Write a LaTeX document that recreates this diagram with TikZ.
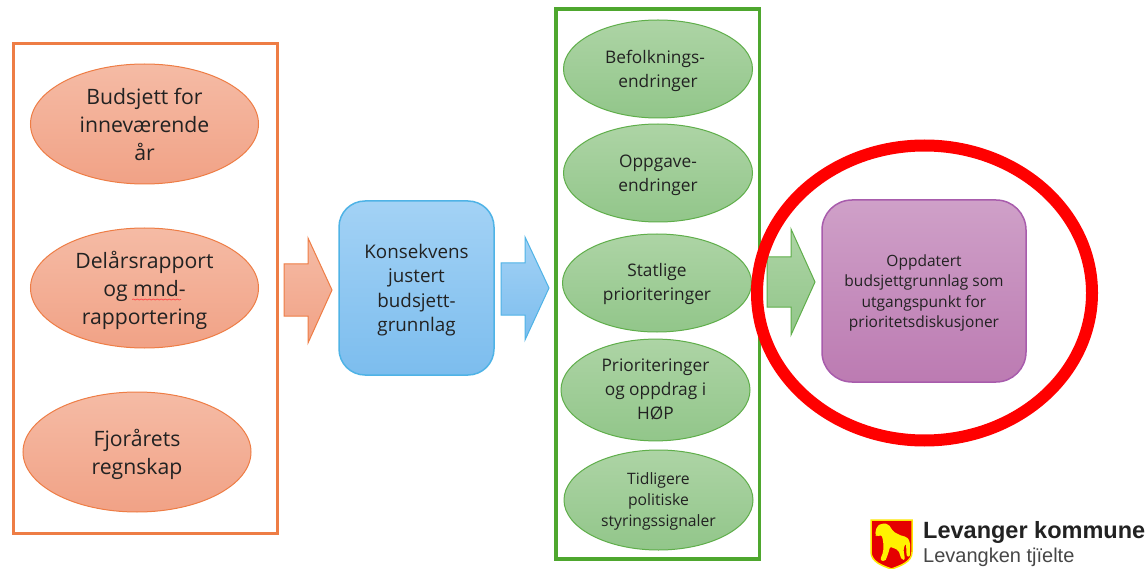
\documentclass[tikz,border=0pt]{standalone}
\usepackage{fontspec}
\setmainfont{Open Sans}
\newfontfamily\logofont{Liberation Sans}
\usetikzlibrary{shapes.geometric,decorations.pathmorphing}
\definecolor{orE}{HTML}{EE7D45}
\definecolor{orT}{HTML}{F5BBA5}
\definecolor{orB}{HTML}{F1A286}
\definecolor{grE}{HTML}{5FAE4A}
\definecolor{grT}{HTML}{ADD4A5}
\definecolor{grB}{HTML}{92C68A}
\definecolor{grF}{HTML}{4EA72E}
\definecolor{blE}{HTML}{4FB3E6}
\definecolor{blT}{HTML}{A3D2F5}
\definecolor{blB}{HTML}{7CBDEE}
\definecolor{puE}{HTML}{A85CAC}
\definecolor{puT}{HTML}{CFA0C8}
\definecolor{puB}{HTML}{BC7BB2}
\definecolor{txt}{HTML}{222222}
\newcommand\dn[2][2pt]{\raisebox{-#1}[\height][\depth]{\begin{tabular}{@{}c@{}}#2\end{tabular}}}
\tikzset{
 x=1pt,y=-1pt,
 every node/.style={align=center,text=txt,inner sep=0pt,font=\fontsize{21.2}{28}\selectfont},
 orell/.style={ellipse,draw=orE,line width=1pt,top color=orT,bottom color=orB,minimum width=228pt,minimum height=120pt},
 grell/.style={ellipse,draw=grE,line width=1pt,top color=grT,bottom color=grB,minimum width=189pt,minimum height=98pt,font=\fontsize{17.3}{24}\selectfont},
 frameor/.style={draw=orE,line width=3pt},
 framegr/.style={draw=grF,line width=3.2pt},
 arrowor/.style={draw=orE,line width=1pt,top color=orT,bottom color=orB},
 arrowbl/.style={draw=blE,line width=1pt,top color=blT,bottom color=blB},
 arrowgr/.style={draw=grE,line width=1pt,top color=grT,bottom color=grB},
}
\begin{document}
\begin{tikzpicture}
\useasboundingbox (0,0) rectangle (1148,569);
\fill[white] (0,0) rectangle (1148,569);
\draw[frameor] (13,44) rectangle (277,533);
\draw[framegr] (556,9) rectangle (759.5,559);
\node[orell] (a1) at (144.5,124) {\dn[3pt]{Budsjett for\\inneværende\\år}};
\node[orell] (a2) at (144.5,288) {\dn[3pt]{Delårsrapport\\og mnd-\\rapportering}};
\node[orell] (a3) at (137,452) {\dn[3pt]{Fjorårets\\regnskap}};
\draw[red!70!white,line width=.7pt,decorate,decoration={snake,amplitude=.5pt,segment length=4pt}] (132,299.5) -- (181,299.5);
\draw[arrowor] (284,264) -- (308,264) -- (308,238) -- (332,290) -- (308,343) -- (308,316) -- (284,316) -- cycle;
\node[draw=blE,line width=1.5pt,rounded corners=26pt,top color=blT,bottom color=blB,minimum width=155pt,minimum height=174pt,font=\fontsize{18.8}{24.5}\selectfont] (b) at (416.5,288) {\dn{Konsekvens\\justert\\budsjett-\\grunnlag}};
\draw[arrowbl] (501,263) -- (525,263) -- (525,237) -- (549,288) -- (525,340) -- (525,315) -- (501,315) -- cycle;
\node[grell] (g1) at (658,69) {\dn{Befolknings-\hspace*{6pt}\\endringer}};
\node[grell] (g2) at (658,173) {\dn{Oppgave-\\endringer}};
\node[grell] (g3) at (657,283) {\dn[1pt]{Statlige\\prioriteringer}};
\node[grell,minimum height=100pt] (g4) at (655.5,390) {\dn[1pt]{Prioriteringer\\og oppdrag i\\HØP}};
\node[grell,minimum height=100pt,font=\fontsize{15.7}{21}\selectfont] (g5) at (658.5,500) {\dn[1pt]{Tidligere\\politiske\\styringssignaler}};
\draw[arrowgr] (767,257) -- (791,257) -- (791,229) -- (815,282) -- (791,335) -- (791,307) -- (767,307) -- cycle;
\draw[red,line width=12pt] (924.5,293) ellipse (167.5pt and 147.5pt);
\node[draw=puE,line width=1.5pt,rounded corners=30pt,top color=puT,bottom color=puB,minimum width=204pt,minimum height=182pt,font=\fontsize{15.5}{20.5}\selectfont] (p) at (924,291) {\dn{Oppdatert\\budsjettgrunnlag som\\utgangspunkt for\\prioritetsdiskusjoner}};
% logo
\fill[red!90!black,draw=yellow!90!orange,line width=1.5pt] (871,520) -- (912,520) -- (912,552) .. controls (912,562) and (900,566) .. (891.5,569) .. controls (883,566) and (871,562) .. (871,552) -- cycle;
\begin{scope}[shift={(860,510)},scale=0.3333]
\fill[yellow,rounded corners=2pt] (45,75) -- (50,50) -- (65,40) -- (85,42) -- (100,65) -- (125,78) -- (140,80) -- (150,95) -- (150,140) -- (140,140) -- (138,100) -- (130,115) -- (135,150) -- (125,150) -- (115,120) -- (90,110) -- (85,130) -- (75,155) -- (60,150) -- (70,125) -- (70,95) -- (65,75) -- (50,80) -- cycle;
\end{scope}
\node[anchor=west,font=\fontsize{23.5}{26}\selectfont\logofont\bfseries] (l1) at (923,532) {Levanger kommune};
\node[anchor=west,font=\fontsize{20}{22}\selectfont\logofont,text=black!72] (l2) at (923,557) {Levangken tjïelte};
\end{tikzpicture}
\end{document}
